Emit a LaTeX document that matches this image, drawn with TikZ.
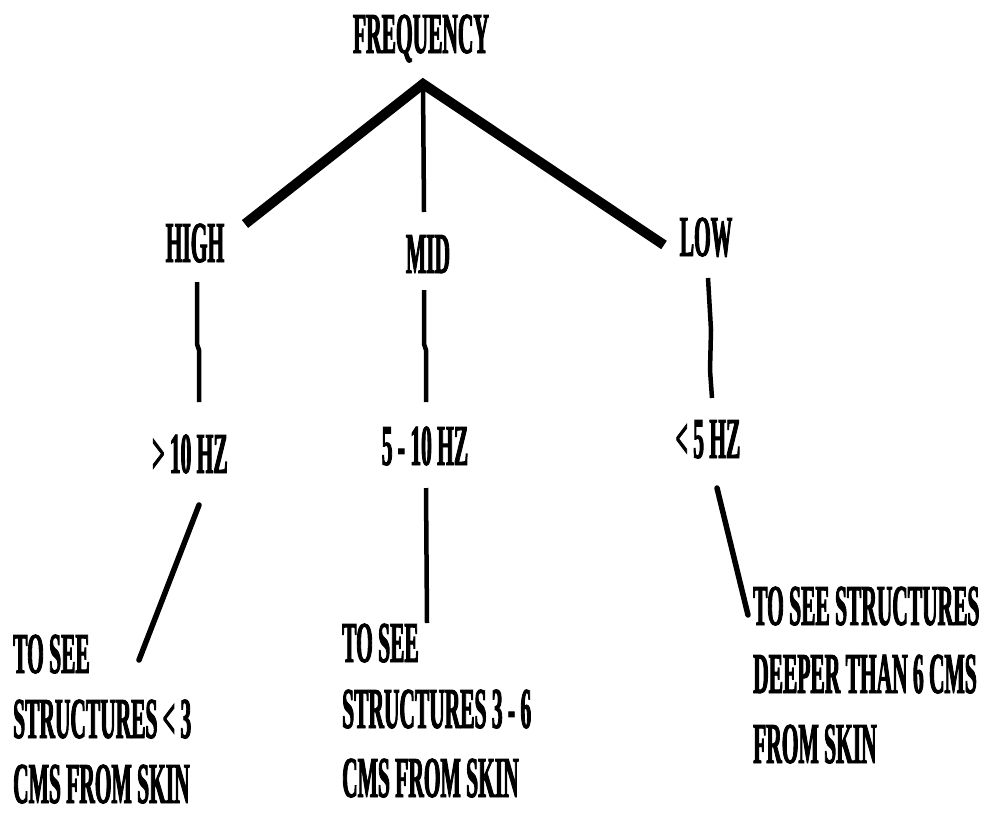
\documentclass[tikz,border=0pt]{standalone}
\usepackage{fontspec}
\newfontfamily\df[FakeStretch=0.37,FakeBold=1.5]{Liberation Serif Bold}
\begin{document}
\begin{tikzpicture}[x=1pt,y=-1pt,
  lab/.style={font=\df\fontsize{58}{70}\selectfont, inner sep=0pt, text depth=0pt},
  thickline/.style={line width=10pt, line join=miter},
  thinline/.style={line width=4.5pt, line join=round},
  lowline/.style={line width=5.5pt, line cap=round}]
\useasboundingbox[fill=white] (0,0) rectangle (984,816);
% labels
\node[lab,anchor=base] (freq) at (421,53) {FREQUENCY};
\node[lab,anchor=base] (high) at (195,262) {HIGH};
\node[lab,anchor=base] (mid) at (428,273) {MID};
\node[lab,anchor=base] (low) at (706,256) {LOW};
\node[lab,anchor=base] (hzhigh) at (190,473) {> 10 HZ};
\node[lab,anchor=base] (hzmid) at (425,465) {5 - 10 HZ};
\node[lab,anchor=base] (hzlow) at (708,458) {< 5 HZ};
\node[lab,anchor=base west] (a1) at (13,673) {TO SEE};
\node[lab,anchor=base west] (a2) at (13,738) {STRUCTURES < 3};
\node[lab,anchor=base west] (a3) at (13,803) {CMS FROM SKIN};
\node[lab,anchor=base west] (b1) at (342,662) {TO SEE};
\node[lab,anchor=base west] (b2) at (342,728) {STRUCTURES 3 - 6};
\node[lab,anchor=base west] (b3) at (342,797) {CMS FROM SKIN};
\node[lab,anchor=base west] (c1) at (753,625) {TO SEE STRUCTURES};
\node[lab,anchor=base west] (c2) at (753,693) {DEEPER THAN 6 CMS};
\node[lab,anchor=base west] (c3) at (753,763) {FROM SKIN};
% connector end points
\coordinate (apex) at (423,84);
\coordinate (highend) at (245,224);
\coordinate (lowend) at (664,245);
\coordinate (midend) at (424,212);
\coordinate (hA) at (197,282); \coordinate (hB) at (197,344);
\coordinate (hC) at (199,350); \coordinate (hD) at (199,402);
\coordinate (mA) at (424,290); \coordinate (mB) at (424,344);
\coordinate (mC) at (426,350); \coordinate (mD) at (426,402);
\coordinate (lA) at (708,278); \coordinate (lB) at (711,330);
\coordinate (lC) at (710,370); \coordinate (lD) at (712,398);
\coordinate (xA) at (199,505); \coordinate (xB) at (139,660);
\coordinate (yA) at (426,488); \coordinate (yB) at (427,623);
\coordinate (zA) at (717,488); \coordinate (zB) at (748,615);
% connectors
\draw[thickline] (highend) -- (apex) -- (lowend);
\draw[thinline] (apex) -- (midend);
\draw[thinline] (hA) -- (hB) -- (hC) -- (hD);
\draw[thinline] (mA) -- (mB) -- (mC) -- (mD);
\draw[thinline] (lA) -- (lB) -- (lC) -- (lD);
\draw[lowline] (xA) -- (xB);
\draw[thinline] (yA) -- (yB);
\draw[lowline] (zA) -- (zB);
\end{tikzpicture}
\end{document}
